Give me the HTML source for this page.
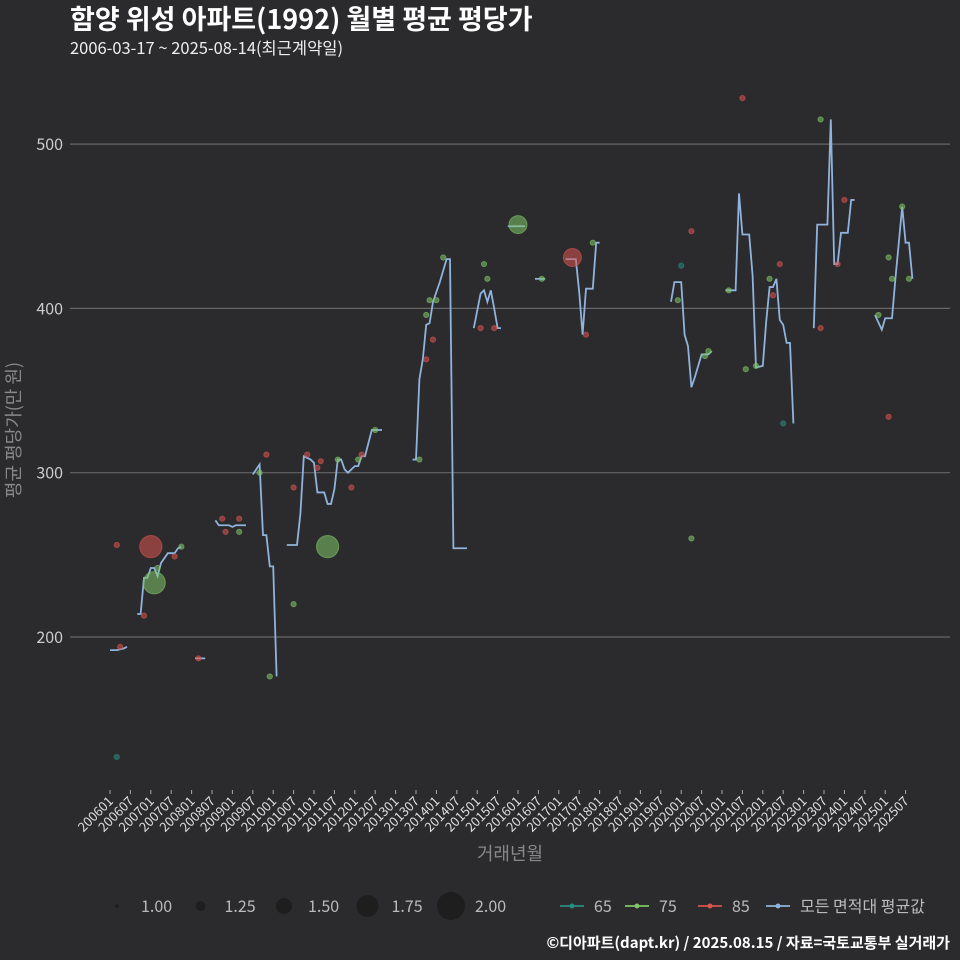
<!DOCTYPE html>
<html><head><meta charset="utf-8"><style>
body{margin:0;background:#2b2b2d;}
svg{display:block;font-family:"Noto Sans CJK KR","Liberation Sans",sans-serif;}
</style></head><body>
<svg id="chart" width="960" height="960" viewBox="0 0 960 960" xmlns="http://www.w3.org/2000/svg">
<rect width="960" height="960" fill="#2b2b2d"/>
<text x="70" y="29" fill="#fff" font-size="27" font-weight="bold">함양 위성 아파트(1992) 월별 평균 평당가</text>
<text x="70" y="54" fill="#eee" font-size="16.5">2006-03-17 ~ 2025-08-14(최근계약일)</text>
<g id="grid"></g>
<g id="yticks"></g>
<g id="xticks"></g>
<g id="lines"></g>
<g id="points"></g>
<text transform="translate(20,430) rotate(-90)" text-anchor="middle" fill="#888" font-size="18">평균 평당가(만 원)</text>
<text x="510" y="860" text-anchor="middle" fill="#888" font-size="18">거래년월</text>
<g id="legend"></g>
<text x="950" y="948" text-anchor="end" fill="#fff" font-size="15" font-weight="bold">©디아파트(dapt.kr) / 2025.08.15 / 자료=국토교통부 실거래가</text>
</svg>
<script>
const yTicks=[200,300,400,500];
const xTickLabels=[];
for(let i=0;i<40;i++){const m=i*6;xTickLabels.push(String(2006+Math.floor(m/12))+(m%12===0?'01':'07'));}
// average line segments: [monthIndex from 2006-01, value]
const avgSeg1=[[0,192],[2,192],[4,193],[5,194]];
const avgSeg2=[[8,214],[9,214],[10,236],[11,236],[12,242],[13,242],[14,237],[15,245],[16,248],[17,251],[19,251],[20,254],[21,255]];
const avgSegB=[[25,187],[28,187]];
const avgSeg3=[[31,271],[32,268],[35,268],[36,267],[37,268],[40,268]];
const avgSeg4=[[42,299],[44,305],[45,262],[46,262],[47,243],[48,243],[49,176]];
const avgSeg5=[[52,256],[55,256],[56,275],[57,310],[59,308],[60,306],[61,288],[63,288],[64,281],[65,281],[66,290],[67,308],[68,308],[69,302],[70,300],[72,304],[73,304],[74,310],[75,310],[77,326],[80,326]];
const avgSeg6=[[89,308],[90,308],[91,357],[92,369],[93,390],[94,391],[95,404],[97,416],[99,430],[100,430],[101,254],[105,254]];
const avgSeg7=[[107,388],[109,409],[110,411],[111,404],[112,411],[113,400],[114,388],[115,388]];
const avgSeg8=[[117,450],[122,450]];
const avgSeg9=[[125,418],[128,418]];
const avgSeg10=[[134,430],[137,430],[138,410],[139,384],[140,412],[142,412],[143,440],[144,440]];
const avgSeg11=[[165,404],[166,416],[168,416],[169,384],[170,377],[171,352],[172,358],[173,365],[174,372],[176,372],[177,374]];
const avgSeg12=[[181,411],[184,411],[185,470],[186,445],[188,445],[189,420],[190,364],[192,365],[193,392],[194,413],[195,413],[196,418],[197,393],[198,390],[199,379],[200,379],[201,330]];
const avgSeg13=[[207,388],[208,451],[211,451],[212,515],[213,427],[214,427],[215,446],[217,446],[218,466],[219,466]];
const avgSeg14=[[225,396],[227,387],[228,394],[230,394],[231,418],[233,462],[234,440],[235,440],[236,418]];
const segments=[avgSeg1,avgSeg2,avgSegB,avgSeg3,avgSeg4,avgSeg5,avgSeg6,avgSeg7,avgSeg8,avgSeg9,avgSeg10,avgSeg11,avgSeg12,avgSeg13,avgSeg14];
// points: month index, value, area group, count
const ptMonth=[2,2,3,10,12,13,14,19,21,26,33,34,38,38,44,46,47,54,54,58,61,62,64,67,71,73,74,78,91,93,93,94,95,96,98,109,110,111,113,120,127,136,140,142,168,167,171,171,175,176,186,182,187,190,195,194,197,198,209,209,214,216,226,229,229,230,233,235];
const ptValue=[127,256,194,213,255,233,242,249,255,187,272,264,272,264,300,311,176,291,220,311,303,307,255,308,291,308,311,326,308,369,396,405,381,405,431,388,427,418,388,451,418,431,384,440,426,405,447,260,371,374,528,411,363,365,408,418,427,330,515,388,427,466,396,334,431,418,462,418];
const ptGroup=[65,85,85,85,85,75,75,85,75,85,85,85,85,75,75,85,75,85,75,85,85,85,75,75,85,75,85,75,75,85,75,75,85,75,75,85,75,75,85,75,75,85,85,75,65,75,85,75,75,75,85,75,75,75,85,75,85,65,75,85,85,85,75,85,75,75,75,75];
const ptCount=[1,1,1,1,2,2,1,1,1,1,1,1,1,1,1,1,1,1,1,1,1,1,2,1,1,1,1,1,1,1,1,1,1,1,1,1,1,1,1,1.75,1,1.75,1,1,1,1,1,1,1,1,1,1,1,1,1,1,1,1,1,1,1,1,1,1,1,1,1,1];
const sizeLegend=[1.00,1.25,1.50,1.75,2.00];
const colorLegend=['65','75','85','모든 면적대 평균값'];

const NS='http://www.w3.org/2000/svg';
const colors={65:'#2a8a80',75:'#7fc466',85:'#d9534f'};
const xs=m=>110+m*3.4;
const ys=v=>637-(v-200)*1.643;
const rs=c=>c<=1?2.6:2.6+(c-1)*8.5;
function mk(tag,attrs,parent){const e=document.createElementNS(NS,tag);for(const k in attrs)e.setAttribute(k,attrs[k]);parent.appendChild(e);return e;}
const grid=document.getElementById('grid'),yt=document.getElementById('yticks'),xt=document.getElementById('xticks');
yTicks.forEach(v=>{
 const l=mk('line',{x1:70,x2:950,y1:ys(v),y2:ys(v),stroke:'#666','stroke-width':1.2},grid);
 
 
 const t=mk('text',{x:63,y:ys(v)+6,'text-anchor':'end',fill:'#ccc','font-size':16},yt);
 t.textContent=v;
 
 
});
xTickLabels.forEach((lab,i)=>{
 const x=xs(i*6);
 const l=mk('line',{x1:x,x2:x,y1:790,y2:794,stroke:'#aaa'},xt);
 
 
 const t=mk('text',{transform:`translate(${x+4},802) rotate(-45)`,'text-anchor':'end',fill:'#ddd','font-size':13},xt);
 t.textContent=lab;
 
 
});
const lg=document.getElementById('lines');
segments.forEach(s=>{
 const p=mk('polyline',{points:s.map(d=>xs(d[0])+','+ys(d[1])).join(' '),fill:'none',stroke:'#8fb3dd','stroke-width':1.8},lg);
 
 
});
const pg=document.getElementById('points');
ptMonth.forEach((m,i)=>{
 const c=mk('circle',{cx:xs(m),cy:ys(ptValue[i]),r:rs(ptCount[i]),fill:colors[ptGroup[i]],'fill-opacity':0.55,stroke:colors[ptGroup[i]],'stroke-opacity':0.6},pg);
 
 
});
const leg=document.getElementById('legend');
sizeLegend.forEach((s,i)=>{
 const x=117+i*83.5;
 const c=mk('circle',{cx:x,cy:906,r:s===1?2:2+(s-1)*12,fill:'#1e1e1f'},leg);
 
 
 const t=mk('text',{x:x+24,y:912,fill:'#bbb','font-size':16},leg);
 t.textContent=s.toFixed(2);
 
 
});
const legX=[572,637,710,778];
const legC=[colors[65],colors[75],colors[85],'#8fb3dd'];
colorLegend.forEach((lab,i)=>{
 const x=legX[i];
 const l=mk('line',{x1:x-12,x2:x+12,y1:906,y2:906,stroke:legC[i],'stroke-width':1.8},leg);
 
 
 const c=mk('circle',{cx:x,cy:906,r:2.5,fill:legC[i]},leg);
 
 
 const t=mk('text',{x:x+22,y:912,fill:'#bbb','font-size':16},leg);
 t.textContent=lab;
 
 
});
</script>
</body></html>
